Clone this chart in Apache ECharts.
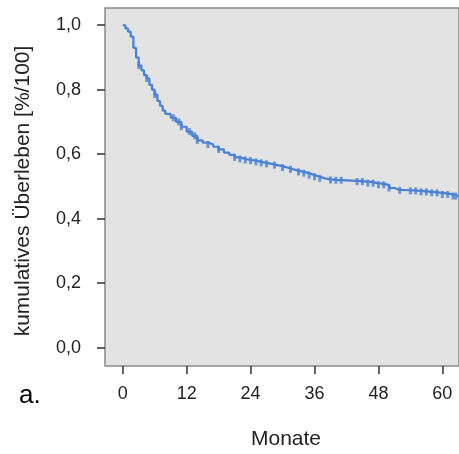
<!DOCTYPE html>
<html>
<head>
<meta charset="utf-8">
<script src="https://cdn.jsdelivr.net/npm/echarts@6/dist/echarts.min.js"></script>
<style>html,body{margin:0;padding:0;background:#fff;}#c{width:459px;height:454px;}</style>
</head>
<body>
<div id="c"></div>
<script>
// Kaplan-Meier curve (months, cumulative survival)
const months = [0,0.5,1,1.5,2,2.5,3,3.5,4,4.5,5,5.5,6,6.5,7,7.5,8,9,10,11,12,13,14,15,16,17,18,19,20,21,22,23,24,25,26,27,28,29,30,31,32,33,34,35,36,37,38,39,40,42,44,46,48,50,51,52,54,56,58,60,62,63];
const survival = [1.0,0.99,0.98,0.965,0.93,0.90,0.875,0.86,0.845,0.835,0.815,0.80,0.785,0.765,0.75,0.735,0.725,0.713,0.70,0.685,0.67,0.657,0.643,0.636,0.63,0.623,0.615,0.605,0.598,0.59,0.585,0.582,0.58,0.576,0.573,0.57,0.566,0.563,0.558,0.553,0.549,0.545,0.541,0.535,0.53,0.525,0.522,0.52,0.519,0.517,0.515,0.51,0.505,0.495,0.489,0.488,0.486,0.483,0.48,0.475,0.47,0.467];
// censored observations (months)
const censored = [3,4.5,6,9.5,10.5,11,12.5,13.5,14,16,18,21,22,23,24,25,26,27,28.5,30,31.5,33,34,35,36,37,39,40,41,44,45,46,47,48,49,50,52,54,55,56,57,58,59,60,61,62,62.5];
const xTicks = [0,12,24,36,48,60];
const yTicks = [0,0.2,0.4,0.6,0.8,1.0];
const xTitle = 'Monate';
const yTitle = 'kumulatives Überleben [%/100]';
const panelLabel = 'a.';

function survAt(t){
  let s = survival[0];
  for (let i=0;i<months.length;i++){ if (months[i] <= t) s = survival[i]; else break; }
  return s;
}
const lineData = months.map((m,i)=>[m, survival[i]]);
const censData = censored.map(m=>[m, survAt(m)]);

const FONT = 'Liberation Sans, Arial, sans-serif';
const chart = echarts.init(document.getElementById('c'), null, {renderer:'canvas'});
chart.setOption({
  animation:false,
  backgroundColor:'#ffffff',
  grid:{left:105, top:8, right:-1, bottom:88, show:true, backgroundColor:'#e3e3e3', borderColor:'#8a8a8a', borderWidth:1.5, containLabel:false},
  xAxis:{type:'value', min:-3.33, max:63.13,
    axisLine:{show:false, onZero:false},
    axisTick:{show:true, length:8, customValues:xTicks, lineStyle:{color:'#333', width:1.5}},
    axisLabel:{customValues:xTicks, margin:19, fontSize:18, color:'#222', fontFamily:FONT},
    splitLine:{show:false}},
  yAxis:{type:'value', min:-0.0572, max:1.0535,
    axisLine:{show:false, onZero:false},
    axisTick:{show:true, length:8, customValues:yTicks, lineStyle:{color:'#333', width:1.5}},
    axisLabel:{customValues:yTicks, margin:24, fontSize:18, color:'#222', fontFamily:FONT,
      formatter:v=>v.toFixed(1).replace('.',',')},
    splitLine:{show:false}},
  series:[
    {type:'line', data:lineData, step:'end', showSymbol:false, lineStyle:{color:'#4a82d3', width:2.2}, silent:true},
    {type:'scatter', data:censData, symbol:'rect', symbolSize:[3,7], itemStyle:{color:'#4a82d3'}, silent:true}
  ],
  graphic:[
    {type:'text', x:286, y:439, style:{text:xTitle, fontSize:21, fontFamily:FONT, fill:'#222', textAlign:'center', textVerticalAlign:'middle'}},
    {type:'text', x:23, y:191, rotation:Math.PI/2, style:{text:yTitle, fontSize:21, fontFamily:FONT, fill:'#222', textAlign:'center', textVerticalAlign:'middle'}},
    {type:'text', x:19, y:396, style:{text:panelLabel, fontSize:26, fontFamily:FONT, fill:'#000', textAlign:'left', textVerticalAlign:'middle'}}
  ]
});
</script>
</body>
</html>
